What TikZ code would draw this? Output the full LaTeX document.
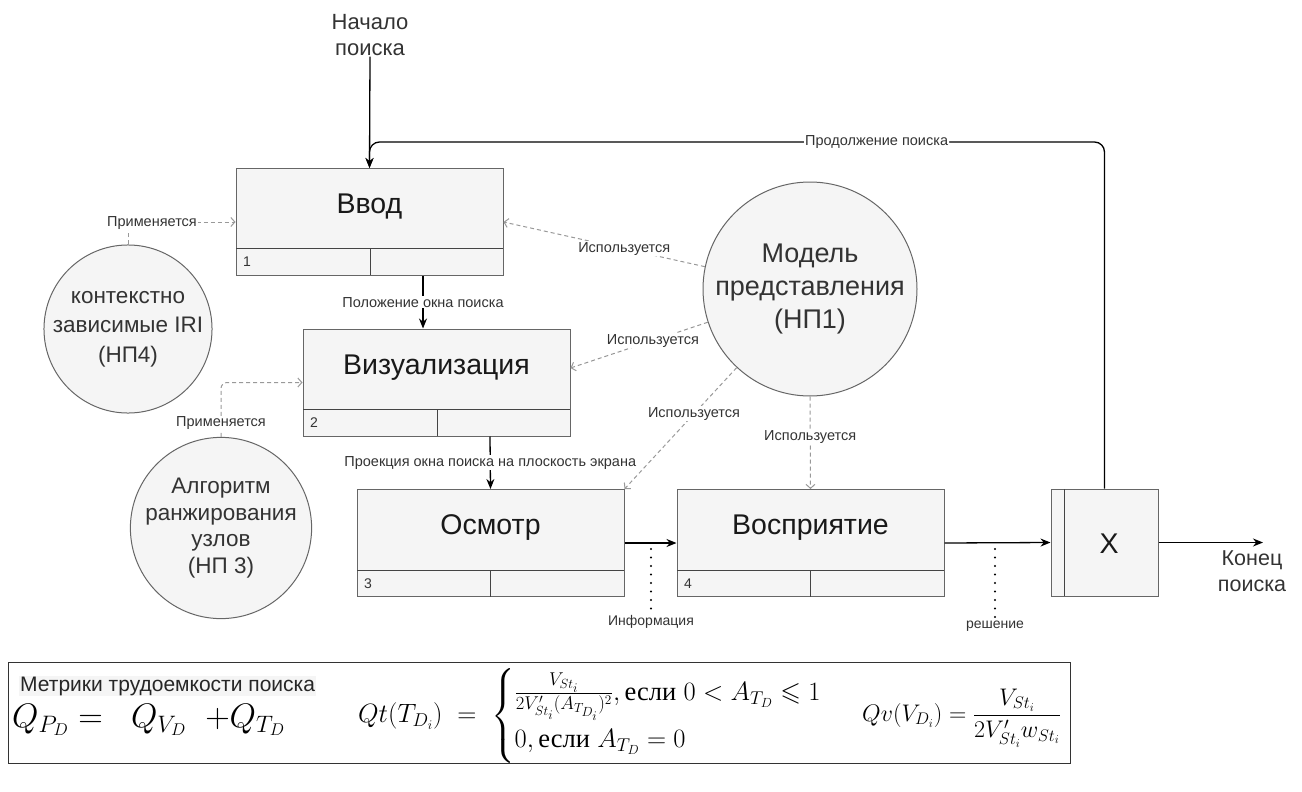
\RequirePackage{fix-cm}
\documentclass[tikz,border=0pt]{standalone}
\usepackage{amsmath,amssymb}
\usepackage[no-math]{fontspec}
\setmainfont{Liberation Sans}
\newfontfamily\cyrsf{Liberation Serif}
\usetikzlibrary{arrows.meta,calc}
\definecolor{fillg}{HTML}{F5F5F5}
\definecolor{strk}{HTML}{666666}
\definecolor{txtg}{HTML}{333333}
\definecolor{dashg}{HTML}{999999}
\definecolor{divg}{HTML}{444444}
\newcommand\fs[2]{\fontsize{#1}{#2}\selectfont}
\newcommand\esli{\text{\cyrsf если}}
\begin{document}
\begin{tikzpicture}[x=1pt,y=-1pt,
  pbox/.style={draw=strk, fill=fillg, line width=1pt, minimum width=267pt, minimum height=107pt, inner sep=0pt},
  ttl/.style={font=\fs{28.5}{33}, text=black!90, inner sep=0pt},
  num/.style={font=\fs{14}{17}, text=txtg, anchor=west, inner sep=0pt},
  circ/.style={circle, draw=strk, fill=fillg, line width=1pt, align=center, text=txtg, inner sep=0pt},
  lab/.style={font=\fs{14.5}{17}, text=txtg, fill=white, inner sep=1pt},
  big/.style={font=\fs{22}{25.5}, text=txtg, align=center, inner sep=1pt},
  arr/.style={draw=black, line width=1.3pt, -{Stealth[length=10pt,width=8pt]}},
  dsh/.style={draw=dashg, line width=1pt, dash pattern=on 4pt off 3pt, -{Straight Barb[length=4pt,width=9pt]}},
  dotl/.style={draw=black, line width=2.2pt, line cap=round, dash pattern=on 0pt off 8.5pt},
  divl/.style={draw=divg, line width=1pt},
]
\useasboundingbox (0,0) rectangle (1302,792);

% ---- process boxes
\node[pbox] (b1) at (369.5,222) {};
\draw[divl] (236,248) -- (503,248) (370,248) -- (370,275);
\node[ttl] (t1) at (369.5,207) {Ввод};
\node[num] (n1) at (243,262) {1};

\node[pbox] (b2) at (436.5,382.5) {};
\draw[divl] (303,409) -- (570,409) (437,409) -- (437,436);
\node[ttl] (t2) at (436.5,368) {Визуализация};
\node[num] (n2) at (310,423) {2};

\node[pbox] (b3) at (490.5,543) {};
\draw[divl] (357,570) -- (624,570) (490,570) -- (490,596.5);
\node[ttl] (t3) at (490.5,528) {Осмотр};
\node[num] (n3) at (364,584) {3};

\node[pbox] (b4) at (810.5,543) {};
\draw[divl] (677,570) -- (944,570) (810,570) -- (810,596.5);
\node[ttl] (t4) at (810.5,528) {Восприятие};
\node[num] (n4) at (684,584) {4};

\node[draw=strk, fill=fillg, line width=1pt, minimum width=107pt, minimum height=107pt, inner sep=0pt] (xb) at (1104.5,542.5) {};
\draw[divl] (1064,489) -- (1064,596);
\node[ttl] (tx) at (1109,544) {X};

% ---- circles
\node[circ, minimum size=214pt, font=\fs{27}{33}] (cm) at (810,289) {Модель\\представления\\(НП1)};
\node[circ, minimum size=160pt, font=\fs{22.5}{29.5}] (c4) at (128,329) {контекстно\\зависимые IRI\\(НП4)};
\node[circ, minimum size=159pt, font=\fs{22.5}{26.7}] (c3) at (221,528) {Алгоритм\\ранжирования\\узлов\\(НП 3)};

% ---- start / end
\node[big] (start) at (370,35) {Начало\\поиска};
\draw[arr] (start.south) -- (b1.north);
\coordinate (fbr) at (1104.5,142);
\coordinate (fbl) at (369.5,142);
\draw[arr, rounded corners=10pt] (xb.north) -- (fbr) -- node[lab, pos=0.31] (lcont) {Продолжение поиска} (fbl) -- (b1.north);

\draw[arr] ([xshift=53.5pt]b1.south) -- ([xshift=53.5pt]b1.south |- b2.north) node[lab, midway] (lpos) {Положение окна поиска};
\draw[arr] ([xshift=53.5pt]b2.south) -- (b3.north) node[lab, midway] (lproj) {Проекция окна поиска на плоскость экрана};
\draw[arr] (b3.east) -- (b4.west);
\draw[arr] (b4.east) -- (xb.west);
\coordinate (endc) at (1263,542.5);
\draw[arr] (xb.east) -- (endc);
\node[big, font=\fs{21.5}{26}] (endt) at (1252,571) {Конец\\поиска};

% ---- dotted markers
\coordinate (d1) at (651,549);
\node[lab, font=\fs{14}{16}] (inf) at (651,622) {Информация};
\draw[dotl] (d1) -- (inf.north);
\coordinate (d2) at (995,549);
\node[lab, font=\fs{14}{16}] (res) at (995,626) {решение};
\draw[dotl] (d2) -- (res.north);

% ---- dashed relations
\draw[dsh] (c4.north) |- (b1.west);
\node[lab] (la1) at (152,223) {Применяется};
\draw[dsh, rounded corners=6pt] (c3.north) |- (b2.west);
\node[lab] (la2) at (221,423) {Применяется};
\draw[dsh] (cm.168) -- (b1.east) node[lab, pos=0.4] (lu1) {Используется};
\draw[dsh] (cm.198) -- ([yshift=14.5pt]b2.east) node[lab, pos=0.4] (lu2) {Используется};
\draw[dsh] (cm.227) -- (b3.north east) node[lab, pos=0.38] (lu3) {Используется};
\draw[dsh] (cm.south) -- (b4.north) node[lab, pos=0.44] (lu4) {Используется};

% ---- metrics box
\node[draw=black!80, line width=1pt, minimum width=1062pt, minimum height=101pt, inner sep=0pt] (mbox) at (539,712.5) {};
\node[anchor=west, fill=black!4, font=\fs{21}{25}, text=black!85, inner sep=1pt] (mt) at (19,686) {Метрики трудоемкости поиска};
\node[anchor=west, inner sep=0pt] (f1) at (12,720) {\fs{34}{40}$Q_{P_D} =\ \ Q_{V_D}\ \ {+}Q_{T_D}$};
\node[anchor=west, inner sep=0pt] (f2) at (358,716) {\fs{26.5}{32}$Qt(T_{D_i})\ =\ \begin{cases}\frac{V_{St_i}}{2V'_{St_i}(A_{T_{D_i}})^2},\esli\ 0<A_{T_D}\leqslant 1\\[1pt] 0,\esli\ A_{T_D}=0\end{cases}$};
\node[anchor=west, inner sep=0pt] (f3) at (862,718) {\fs{24}{29}$Qv(V_{D_i})=\dfrac{V_{St_i}}{2V'_{St_i}w_{St_i}}$};
\end{tikzpicture}
\end{document}
